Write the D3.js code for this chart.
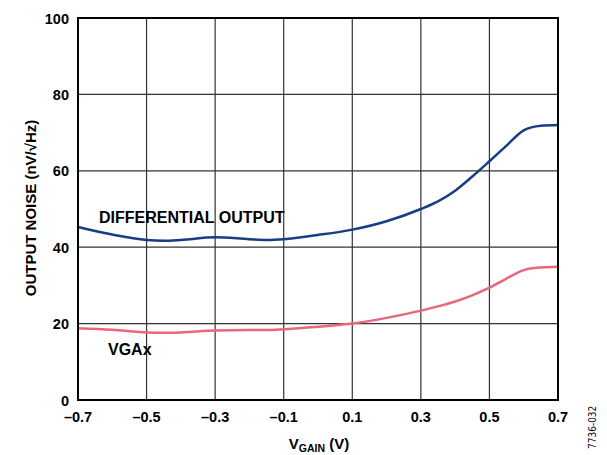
<!DOCTYPE html>
<html>
<head>
<meta charset="utf-8">
<script src="https://cdn.jsdelivr.net/npm/d3@7"></script>
<style>
  body { margin: 0; background: #fff; }
  text { font-family: Arial, "Liberation Sans", sans-serif; font-weight: bold; fill: #000; }
</style>
</head>
<body>
<script>
var vgain = [-0.7, -0.6, -0.5, -0.45, -0.4, -0.3, -0.2, -0.15, -0.1, 0, 0.1, 0.2, 0.3, 0.35, 0.4, 0.45, 0.5, 0.55, 0.6, 0.65, 0.7];
var diffOut = [45.3, 43.3, 41.9, 41.7, 41.9, 42.6, 42.1, 41.9, 42.1, 43.2, 44.6, 46.8, 50.0, 52.0, 54.8, 58.5, 62.5, 66.6, 70.6, 71.8, 72.0];
var vgaX = [18.8, 18.4, 17.7, 17.6, 17.7, 18.2, 18.3, 18.3, 18.5, 19.2, 20.0, 21.5, 23.4, 24.5, 25.8, 27.4, 29.4, 31.8, 34.0, 34.7, 34.9];
var xTicks = [-0.7, -0.5, -0.3, -0.1, 0.1, 0.3, 0.5, 0.7];
var yTicks = [0, 20, 40, 60, 80, 100];

var W = 607, H = 455;
var m = { left: 78, right: 49, top: 18, bottom: 55 };
var w = W - m.left - m.right, h = H - m.top - m.bottom;

var svg = d3.select("body").append("svg")
  .attr("width", W)
  .attr("height", H);

var g = svg.append("g").attr("transform", "translate(" + m.left + "," + m.top + ")");

var x = d3.scaleLinear().domain([-0.7, 0.7]).range([0, w]);
var y = d3.scaleLinear().domain([0, 100]).range([h, 0]);

// grid
g.selectAll(".vg").data(xTicks).enter().append("line")
  .attr("x1", function(d) { return x(d); })
  .attr("x2", function(d) { return x(d); })
  .attr("y1", 0).attr("y2", h)
  .attr("stroke", "#333").attr("stroke-width", 1.2);
g.selectAll(".hg").data(yTicks).enter().append("line")
  .attr("y1", function(d) { return y(d); })
  .attr("y2", function(d) { return y(d); })
  .attr("x1", 0).attr("x2", w)
  .attr("stroke", "#333").attr("stroke-width", 1.2);

// tick labels
var fmt = function(d) { return d < 0 ? "\u2013" + Math.abs(d).toFixed(1) : d.toFixed(1); };
g.selectAll(".xl").data(xTicks).enter().append("text")
  .attr("x", function(d) { return x(d); })
  .attr("y", h + 22)
  .attr("text-anchor", "middle")
  .attr("font-size", "14.5px")
  .text(fmt);
g.selectAll(".yl").data(yTicks).enter().append("text")
  .attr("x", -9)
  .attr("y", function(d) { return y(d) + 5.5; })
  .attr("text-anchor", "end")
  .attr("font-size", "14.5px")
  .text(function(d) { return d; });

// lines
var line = d3.line()
  .x(function(d) { return x(d[0]); })
  .y(function(d) { return y(d[1]); })
  .curve(d3.curveMonotoneX);

g.append("path").datum(d3.zip(vgain, vgaX))
  .attr("d", line).attr("fill", "none")
  .attr("stroke", "#e8677b").attr("stroke-width", 2.5);
g.append("path").datum(d3.zip(vgain, diffOut))
  .attr("d", line).attr("fill", "none")
  .attr("stroke", "#173e84").attr("stroke-width", 2.5);

// frame
g.append("rect").attr("width", w).attr("height", h)
  .attr("fill", "none").attr("stroke", "#000").attr("stroke-width", 2);

// series labels
g.append("text").attr("x", 21).attr("y", 205).attr("font-size", "16px").text("DIFFERENTIAL OUTPUT");
g.append("text").attr("x", 30).attr("y", 337).attr("font-size", "16px").text("VGAx");

// axis titles
var xt = svg.append("text")
  .attr("x", 319).attr("y", 449)
  .attr("text-anchor", "middle")
  .attr("font-size", "15px");
xt.append("tspan").text("V");
xt.append("tspan").attr("font-size", "10.5px").attr("dy", 3).text("GAIN");
xt.append("tspan").attr("dy", -3).text(" (V)");

svg.append("text")
  .attr("transform", "translate(36,208) rotate(-90)")
  .attr("text-anchor", "middle")
  .attr("font-size", "15px")
  .text("OUTPUT NOISE (nV/\u221AHz)");

svg.append("text")
  .attr("transform", "translate(596,449) rotate(-90)")
  .style("font-size", "10px")
  .style("font-weight", "normal")
  .style("font-family", "'Liberation Sans Narrow', 'DejaVu Sans Condensed', Arial, sans-serif")
  .text("7736-032");
</script>
</body>
</html>
